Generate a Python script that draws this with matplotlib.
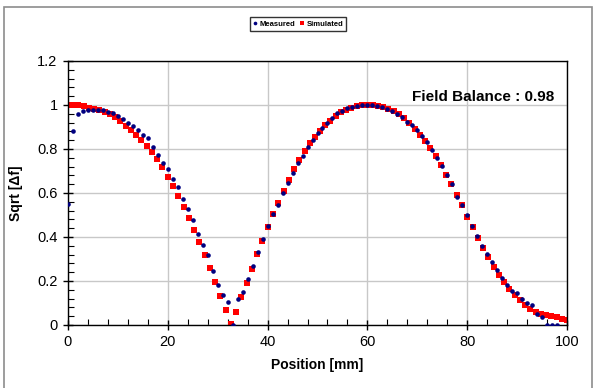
import matplotlib
matplotlib.use("Agg")
import matplotlib.pyplot as plt
from matplotlib.patches import Rectangle
from matplotlib.ticker import MultipleLocator

# measured field (bead-pull), 1 mm steps
meas_x = list(range(99))
meas_y = [0.55, 0.88, 0.96, 0.973, 0.979, 0.979, 0.978, 0.976, 0.97, 0.962,
          0.949, 0.937, 0.92, 0.903, 0.885, 0.864, 0.85, 0.81, 0.773, 0.738,
          0.711, 0.662, 0.626, 0.571, 0.526, 0.477, 0.414, 0.362, 0.317, 0.244,
          0.182, 0.135, 0.105, 0.0, 0.12, 0.15, 0.21, 0.268, 0.333, 0.392,
          0.45, 0.503, 0.547, 0.6, 0.644, 0.693, 0.735, 0.768, 0.808, 0.841,
          0.874, 0.895, 0.92, 0.94, 0.964, 0.975, 0.985, 0.992, 0.997, 1.0,
          1.0, 0.998, 0.995, 0.99, 0.982, 0.975, 0.96, 0.945, 0.925, 0.91,
          0.885, 0.86, 0.83, 0.797, 0.757, 0.724, 0.68, 0.639, 0.584, 0.544,
          0.499, 0.45, 0.405, 0.359, 0.322, 0.285, 0.25, 0.214, 0.183, 0.156,
          0.147, 0.12, 0.101, 0.089, 0.05, 0.035, 0.0, 0.0, 0.0]

# simulated field
sim_x = [0.0, 1.1, 2.1, 3.2, 4.2, 5.3, 6.3, 7.4, 8.4, 9.5,
         10.5, 11.6, 12.6, 13.7, 14.7, 15.8, 16.8, 17.9, 18.9, 20.0,
         21.1, 22.1, 23.2, 24.2, 25.3, 26.3, 27.4, 28.4, 29.5, 30.5,
         31.6, 32.6, 33.7, 34.7, 35.8, 36.8, 37.9, 38.9, 40.0, 41.1,
         42.1, 43.2, 44.2, 45.3, 46.3, 47.4, 48.4, 49.5, 50.5, 51.6,
         52.6, 53.7, 54.7, 55.8, 56.8, 57.9, 58.9, 60.0, 61.1, 62.1,
         63.2, 64.2, 65.3, 66.3, 67.4, 68.4, 69.5, 70.5, 71.6, 72.6,
         73.7, 74.7, 75.8, 76.8, 77.9, 78.9, 80.0, 81.1, 82.1, 83.2,
         84.2, 85.3, 86.3, 87.4, 88.4, 89.5, 90.5, 91.6, 92.6, 93.7,
         94.7, 95.8, 96.8, 97.9, 98.9, 100.0]
sim_y = [1.0, 1.0, 0.998, 0.995, 0.988, 0.98, 0.976, 0.967, 0.958, 0.945,
         0.927, 0.906, 0.888, 0.864, 0.842, 0.815, 0.785, 0.753, 0.717, 0.675,
         0.634, 0.588, 0.538, 0.486, 0.432, 0.376, 0.317, 0.257, 0.195, 0.132,
         0.068, 0.005, 0.059, 0.126, 0.192, 0.256, 0.323, 0.383, 0.444, 0.503,
         0.556, 0.61, 0.66, 0.708, 0.748, 0.789, 0.826, 0.856, 0.883, 0.908,
         0.929, 0.949, 0.967, 0.979, 0.988, 0.995, 1.0, 1.0, 1.0, 0.995,
         0.99, 0.98, 0.973, 0.957, 0.94, 0.918, 0.89, 0.864, 0.836, 0.803,
         0.77, 0.727, 0.684, 0.641, 0.592, 0.544, 0.492, 0.444, 0.395, 0.35,
         0.308, 0.265, 0.229, 0.195, 0.165, 0.138, 0.114, 0.092, 0.071, 0.059,
         0.05, 0.047, 0.041, 0.035, 0.029, 0.023]

plt.rcParams["font.family"] = ["Liberation Sans", "DejaVu Sans"]

fig = plt.figure(figsize=(5.97, 3.88), dpi=100)
ax = fig.add_axes([68 / 597, 1 - 325 / 388, (567 - 68) / 597, (325 - 61) / 388])

# outer frame of the chart area
fig.patches.append(Rectangle((4 / 597, -0.05), 588 / 597, 1.05 - 7 / 388,
                             transform=fig.transFigure, fill=False,
                             edgecolor="#8c8c8c", lw=1.2))

ax.plot(meas_x, meas_y, "o", color="#000080", ms=3.3, mew=0, label="Measured", zorder=3)
ax.plot(sim_x, sim_y, "s", color="#ff0000", ms=3.9, mew=0, label="Simulated", zorder=2)

ax.set_xlim(0, 100)
ax.set_ylim(0, 1.2)
ax.xaxis.set_major_locator(MultipleLocator(20))
ax.xaxis.set_minor_locator(MultipleLocator(4))
ax.yaxis.set_major_locator(MultipleLocator(0.2))
ax.yaxis.set_minor_locator(MultipleLocator(0.04))
ax.yaxis.set_major_formatter(plt.FuncFormatter(lambda v, p: f"{v:g}"))
ax.tick_params(which="major", direction="inout", length=7, width=1,
               labelsize=10.5, pad=4)
ax.tick_params(which="minor", direction="in", length=4, width=0.8)
ax.grid(True, which="major", color="#c8c8c8", lw=1)
ax.set_axisbelow(True)
for s in ax.spines.values():
    s.set_color("black")
    s.set_linewidth(1)

ax.set_xlabel("Position [mm]", fontsize=10, fontweight="bold", labelpad=6)
ax.set_ylabel("Sqrt [\u0394f]", fontsize=10, fontweight="bold", labelpad=10)

ax.text(0.975, 0.865, "Field Balance : 0.98", transform=ax.transAxes,
        ha="right", va="center", fontsize=11, fontweight="bold")

fig.legend(loc="center", bbox_to_anchor=(298 / 597, 1 - 24 / 388), ncol=2,
           fontsize=5.5, frameon=True, fancybox=False, edgecolor="black",
           handlelength=0.6, handletextpad=0.3, columnspacing=0.6,
           borderpad=0.4, markerscale=0.8, prop={"weight": "bold", "size": 5.5})

fig.savefig("out.png", dpi=100)
